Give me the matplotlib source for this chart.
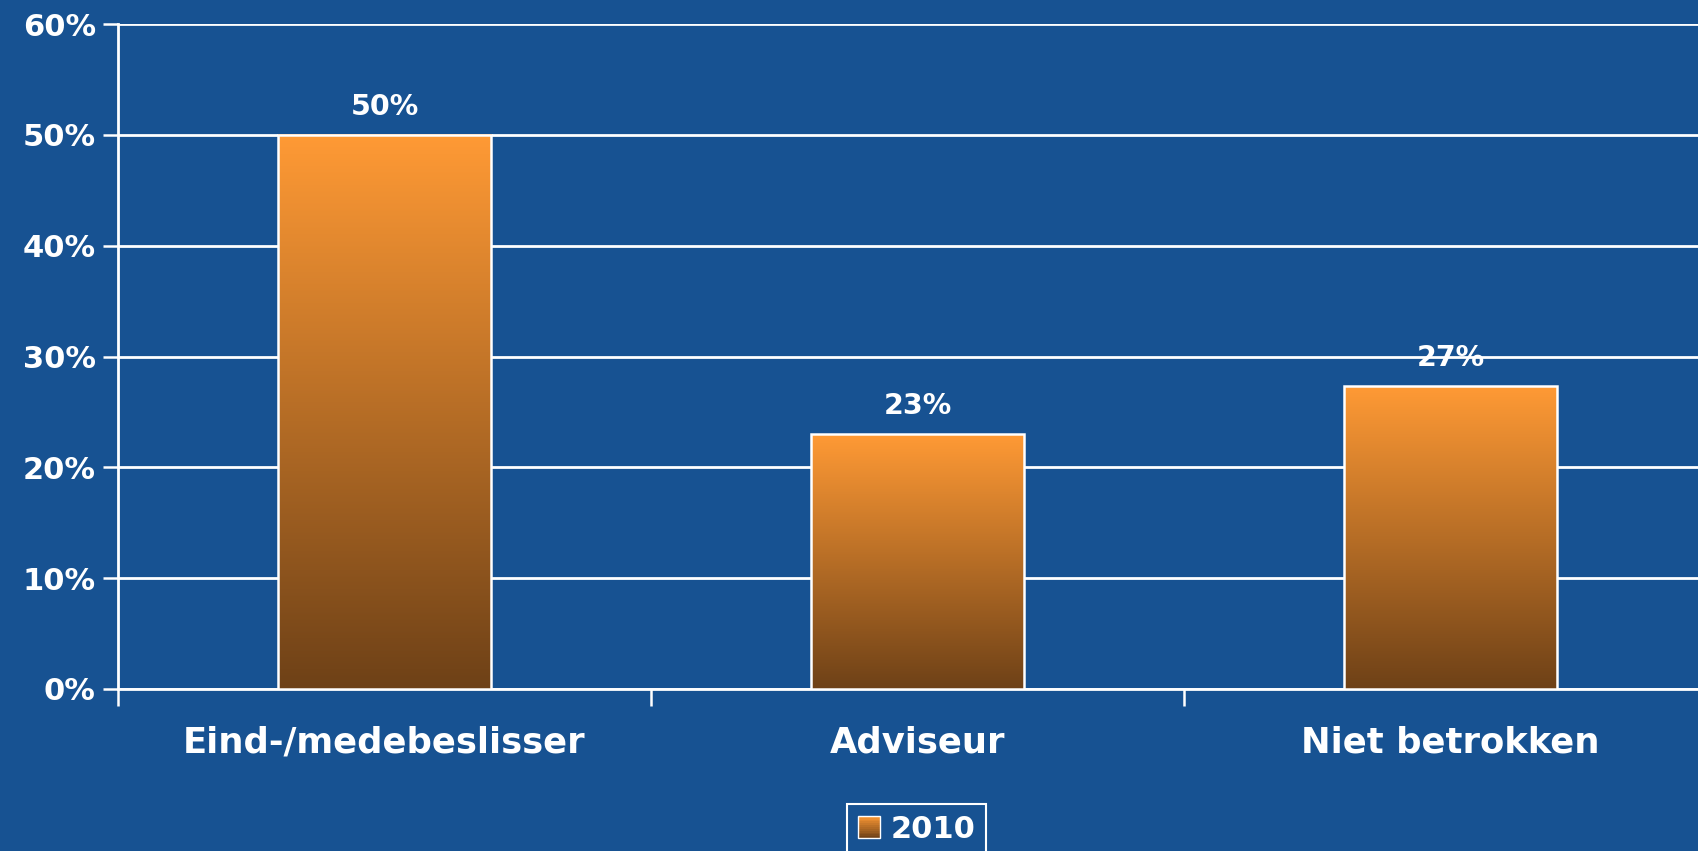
import numpy as np
import matplotlib
matplotlib.use("Agg")
import matplotlib.pyplot as plt
from matplotlib.colors import LinearSegmentedColormap
from matplotlib.legend_handler import HandlerBase
from matplotlib.patches import Rectangle, Patch

categories = ["Eind-/medebeslisser", "Adviseur", "Niet betrokken"]
values = [50, 23, 27.3]
labels = ["50%", "23%", "27%"]
series_name = "2010"
yticks = [0, 10, 20, 30, 40, 50, 60]

BG = "#175292"
TOP = "#FF9A35"
BOT = "#6E4117"
cmap = LinearSegmentedColormap.from_list("g", [BOT, TOP])

plt.rcParams['font.family'] = ['DejaVu Sans']
plt.rcParams['font.weight'] = 'bold'

W, H = 1699, 851
fig = plt.figure(figsize=(W / 100, H / 100), dpi=100, facecolor=BG)
left, right_px, bottom, top = 118, 118 + 3 * 533, 689, 24
ax = fig.add_axes([left / W, (H - bottom) / H, (right_px - left) / W, (bottom - top) / H])
ax.set_facecolor(BG)

x = np.arange(len(categories))
bw = 0.4
grad = np.linspace(1, 0, 256).reshape(-1, 1)
for xi, v in zip(x, values):
    ax.imshow(grad, extent=[xi - bw / 2, xi + bw / 2, 0, v], aspect='auto',
              cmap=cmap, vmin=0, vmax=1, zorder=3, interpolation='bilinear')
ax.bar(x, values, width=bw, facecolor='none', edgecolor='white', linewidth=1.8, zorder=4)

for xi, v, lab in zip(x, values, labels):
    ax.annotate(lab, (xi, v), xytext=(0, 14), textcoords='offset pixels',
                ha='center', va='bottom', color='white', fontsize=20.5, fontweight='bold', zorder=5)

ax.set_xlim(-0.5, 2.5)
ax.set_ylim(0, 60)
ax.set_yticks(yticks)
ax.set_yticklabels([f"{t}%" for t in yticks])
ax.yaxis.grid(True, color='white', linewidth=2, zorder=1)
ax.set_axisbelow(True)

ax.set_xticks(x)
ax.set_xticklabels(categories)
ax.set_xticks([-0.5, 0.5, 1.5], minor=True)
ax.tick_params(axis='x', which='major', length=0, pad=26, labelsize=25.5, colors='white')
ax.tick_params(axis='x', which='minor', length=12, width=1.8, color='white', direction='out')
ax.tick_params(axis='y', length=11, width=1.8, color='white', labelsize=22, labelcolor='white', pad=5)
for lab in ax.get_xticklabels() + ax.get_yticklabels():
    lab.set_fontweight('bold')

for s in ['top', 'right']:
    ax.spines[s].set_visible(False)
for s in ['left', 'bottom']:
    ax.spines[s].set_color('white')
    ax.spines[s].set_linewidth(2)


class GradHandler(HandlerBase):
    def create_artists(self, legend, orig_handle, xdescent, ydescent, width, height, fontsize, trans):
        arts = []
        n = 12
        size = min(width, height) * 1.0
        x0 = xdescent + (width - size) / 2
        y0 = -ydescent + (height - size) / 2
        for i in range(n):
            c = cmap(1 - (i + 0.5) / n)
            r = Rectangle((x0, y0 + size * (n - 1 - i) / n), size, size / n,
                          facecolor=c, edgecolor='none', transform=trans)
            arts.append(r)
        arts.append(Rectangle((x0, y0), size, size, facecolor='none',
                              edgecolor='white', linewidth=1, transform=trans))
        return arts


h = Patch(label=series_name)
leg = fig.legend([h], [series_name], handler_map={Patch: GradHandler()},
                 loc='upper center', bbox_to_anchor=(916.5 / W, (H - 804) / H),
                 frameon=True, fancybox=False, facecolor=BG, edgecolor='white',
                 prop={'weight': 'bold', 'size': 22}, labelcolor='white',
                 handlelength=0.75, handleheight=0.75, handletextpad=0.35,
                 borderpad=0.35, borderaxespad=0, framealpha=1)
leg.get_frame().set_linewidth(1.5)

fig.savefig("out.png", dpi=100, facecolor=BG)
